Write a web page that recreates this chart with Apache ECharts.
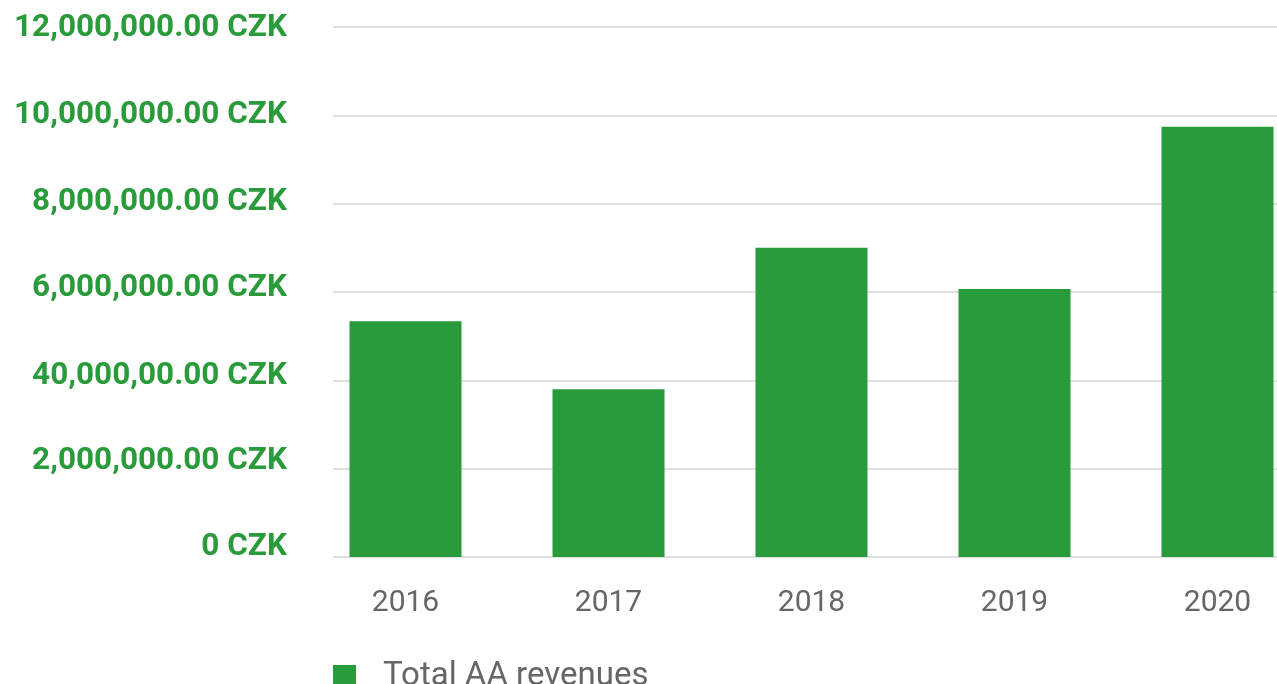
<!DOCTYPE html>
<html><head><meta charset="utf-8">
<script src="https://cdn.jsdelivr.net/npm/echarts@6/dist/echarts.min.js"></script>
<style>html,body{margin:0;padding:0;background:#fff}#c{width:1277px;height:684px}</style>
</head><body><div id="c"></div>
<script>
const categories = ['2016','2017','2018','2019','2020'];
const revenues = [5340000, 3800000, 7000000, 6070000, 9740000];
const yTickLabels = ['0 CZK','2,000,000.00 CZK','40,000,00.00 CZK','6,000,000.00 CZK','8,000,000.00 CZK','10,000,000.00 CZK','12,000,000.00 CZK'];
const seriesName = 'Total AA revenues';

const green = '#2a9b3a';
// small per-label vertical nudges (px, positive = up) to follow the reference's label placement
const labelShift = [10, 8, 4, 4, 2, 0, -1];
const rich = {};
labelShift.forEach((s, i) => {
  rich['l' + i] = {
    fontFamily: 'Roboto', fontWeight: 'bold', fontSize: 31.5, color: green,
    padding: s >= 0 ? [0, 0, 2 * s, 0] : [-2 * s, 0, 0, 0]
  };
});

const chart = echarts.init(document.getElementById('c'));
chart.setOption({
  animation: false,
  legend: {
    data: [seriesName], left: 333, top: 660, padding: 0, itemWidth: 23, itemHeight: 23, itemGap: 0,
    icon: 'rect',
    textStyle: { fontFamily: 'Roboto', fontSize: 33, color: '#666', padding: [0,0,0,22] }
  },
  grid: [
    { left: 333, right: 0, top: 27, bottom: 127, containLabel: false, outerBoundsMode: 'none' },
    { left: 304, right: -42, top: 27, bottom: 127, containLabel: false, outerBoundsMode: 'none' }
  ],
  xAxis: [
    { type: 'category', gridIndex: 0, data: categories, show: false },
    { type: 'category', gridIndex: 1, data: categories,
      axisLine: { show: false }, axisTick: { show: false },
      axisLabel: { fontFamily: 'Roboto', fontSize: 30, color: '#666', margin: 31 } }
  ],
  yAxis: [
    { type: 'value', gridIndex: 0, min: 0, max: 12000000, interval: 2000000,
      axisLine: { show: false }, axisTick: { show: false },
      splitLine: { lineStyle: { color: '#d6d6d6', width: 1.5 } },
      axisLabel: { margin: 46, rich: rich,
        formatter: (v) => { const i = Math.round(v / 2000000); return '{l' + i + '|' + yTickLabels[i] + '}'; } } },
    { type: 'value', gridIndex: 1, min: 0, max: 12000000, interval: 2000000, show: false,
      splitLine: { show: false } }
  ],
  series: [{
    name: seriesName, type: 'bar', xAxisIndex: 1, yAxisIndex: 1,
    data: revenues, barWidth: 112, itemStyle: { color: green }
  }]
});
</script></body></html>
